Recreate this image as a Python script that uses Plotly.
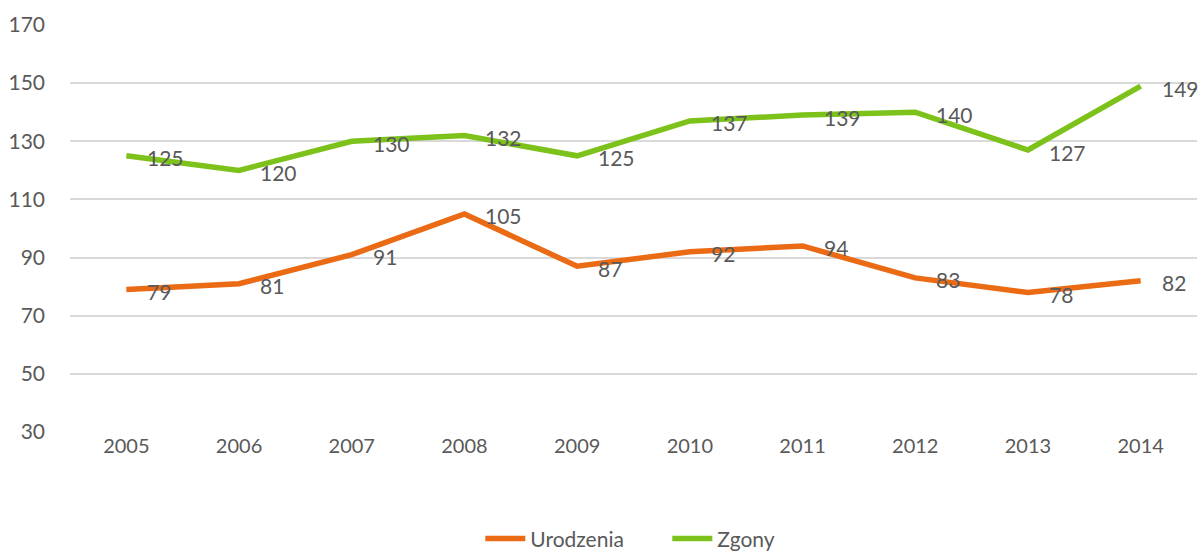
import plotly.graph_objects as go

years = ["2005", "2006", "2007", "2008", "2009", "2010", "2011", "2012", "2013", "2014"]
urodzenia = [79, 81, 91, 105, 87, 92, 94, 83, 78, 82]
zgony = [125, 120, 130, 132, 125, 137, 139, 140, 127, 149]
y_ticks = [30, 50, 70, 90, 110, 130, 150, 170]

FONT = "Lato, 'Open Sans', sans-serif"
TXT = "#595959"

fig = go.Figure()
fig.add_trace(go.Scatter(x=years, y=urodzenia, mode="lines", name="Urodzenia",
                         line=dict(color="#EB6A14", width=5.5)))
fig.add_trace(go.Scatter(x=years, y=zgony, mode="lines", name="Zgony",
                         line=dict(color="#7CC21B", width=5.5)))

for series in (urodzenia, zgony):
    for i, v in enumerate(series):
        fig.add_annotation(x=i, y=v, text=str(v), showarrow=False,
                           xanchor="left", yanchor="middle", xshift=19, yshift=-2,
                           font=dict(family=FONT, size=21, color=TXT))

fig.update_layout(
    width=1200, height=553,
    margin=dict(l=70, r=3, t=25, b=121, autoexpand=False),
    plot_bgcolor="white", paper_bgcolor="white",
    font=dict(family=FONT, color=TXT, size=21),
    showlegend=True,
    legend=dict(orientation="h", x=0.53, xanchor="center", y=-0.212, yanchor="top",
                font=dict(size=21, color=TXT), itemwidth=40,
                entrywidth=132, entrywidthmode="pixels"),
    xaxis=dict(type="category", range=[-0.5, 9.5], showgrid=False, showline=False,
               ticks="", tickfont=dict(size=20, color=TXT), automargin=False),
    yaxis=dict(range=[30, 170], tickvals=y_ticks, showgrid=True, gridcolor="#D9D9D9",
               gridwidth=1.5, zeroline=False, showline=False, ticks="",
               tickfont=dict(size=21, color=TXT), ticklabelstandoff=24,
               automargin=False),
)

fig.write_html("out.html", config={"displayModeBar": False},
               post_script="document.body.style.margin='0';document.body.style.overflow='hidden';")
